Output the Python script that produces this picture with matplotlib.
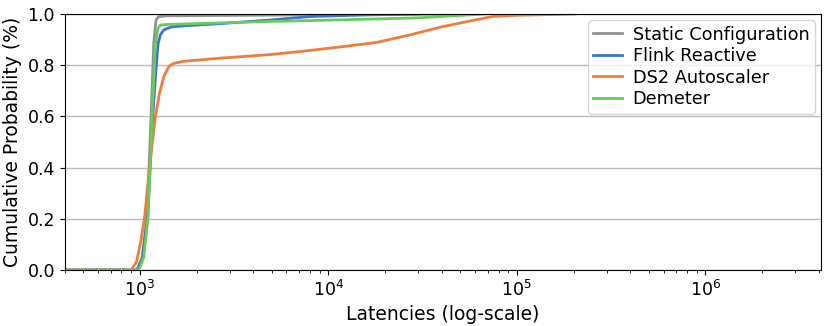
import matplotlib
matplotlib.use("Agg")
import matplotlib.pyplot as plt

# CDF points (latency, cumulative probability)
static_lat = [400, 967, 1030, 1093, 1148, 1186, 1220, 1261, 1400, 1e4,
              6e4]
static_cdf = [0.0, 0.0, 0.05, 0.21, 0.6, 0.885, 0.977, 0.99, 0.993,
              0.997, 1.0]

flink_lat = [400, 967, 1030, 1100, 1172, 1211, 1251, 1290, 1341, 1400,
             1484, 1800, 2623, 5000, 8000, 15000, 30000]
flink_cdf = [0.0, 0.0, 0.04, 0.2, 0.6, 0.755, 0.885, 0.92, 0.9375,
             0.944, 0.95, 0.955, 0.962, 0.977, 0.99, 0.996, 1.0]

ds2_lat = [400, 900, 960, 1009, 1063, 1126, 1211, 1272, 1341, 1425, 1470,
           1514, 1700, 2623, 5000, 7000, 11800, 18000, 27000, 40000,
           51000, 74000, 1e5, 2.05e5]
ds2_cdf = [0.0, 0.0, 0.03, 0.105, 0.21, 0.40, 0.60, 0.69, 0.755, 0.794,
           0.802, 0.807, 0.815, 0.827, 0.842, 0.853, 0.872, 0.889,
           0.918, 0.95, 0.966, 0.99, 0.995, 1.0]

demeter_lat = [400, 990, 1050, 1107, 1162, 1211, 1250, 1288, 1400, 2623,
               5000, 10000, 30000, 68000]
demeter_cdf = [0.0, 0.0, 0.05, 0.21, 0.6, 0.885, 0.945, 0.957, 0.959,
               0.965, 0.971, 0.976, 0.985, 1.0]

labels = ["Static Configuration", "Flink Reactive", "DS2 Autoscaler",
          "Demeter"]
colors = ["#929292", "#3f72d0", "#ef7d3f", "#66cc5a"]

fig, ax = plt.subplots(figsize=(8.3, 3.26), dpi=100)
series = [(static_lat, static_cdf), (flink_lat, flink_cdf),
          (ds2_lat, ds2_cdf), (demeter_lat, demeter_cdf)]
for (x, y), lab, c in zip(series, labels, colors):
    ax.plot(x, y, color=c, linewidth=2, label=lab)

ax.set_xscale("log")
ax.set_xlim(400, 4.1e6)
ax.set_ylim(0, 1.0)
ax.set_yticks([0.0, 0.2, 0.4, 0.6, 0.8, 1.0])
ax.yaxis.grid(True, color="#bbbbbb", linewidth=1)
ax.set_axisbelow(True)
ax.tick_params(labelsize=12.5)
ax.set_xlabel("Latencies (log-scale)", fontsize=13.5)
ax.set_ylabel("Cumulative Probability (%)", fontsize=13.5)
ax.legend(loc="upper right", fontsize=12.8, handlelength=1.6,
          borderpad=0.3, labelspacing=0.2, handletextpad=0.6,
          borderaxespad=0.35)
fig.subplots_adjust(left=0.078, right=0.989, top=0.957, bottom=0.172)
fig.savefig("out.png", dpi=100)
